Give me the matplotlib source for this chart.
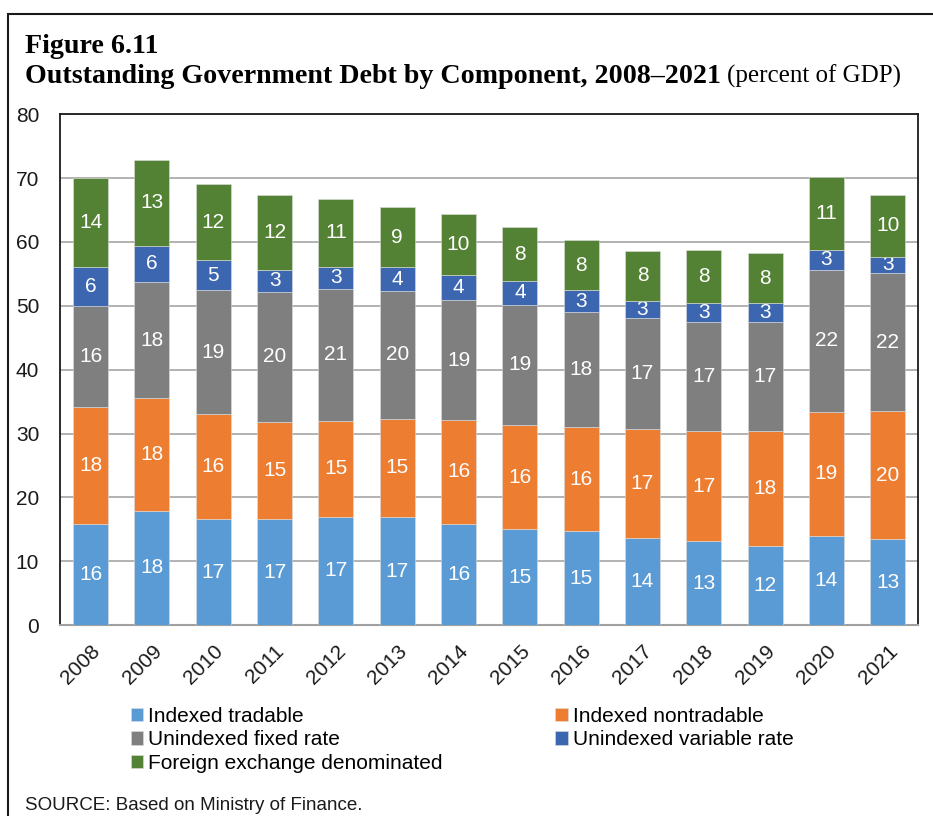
import matplotlib.pyplot as plt
from matplotlib.patches import Rectangle
import numpy as np

years = ['2008', '2009', '2010', '2011', '2012', '2013', '2014',
         '2015', '2016', '2017', '2018', '2019', '2020', '2021']

# percent of GDP
indexed_tradable = [15.8, 17.9, 16.6, 16.6, 17.0, 16.9, 15.9, 15.0, 14.7, 13.7, 13.1, 12.4, 14.0, 13.4]
indexed_nontradable = [18.4, 17.6, 16.4, 15.2, 14.9, 15.4, 16.2, 16.3, 16.3, 17.0, 17.3, 18.0, 19.4, 20.1]
unindexed_fixed = [15.8, 18.2, 19.4, 20.4, 20.8, 20.0, 18.8, 18.9, 18.0, 17.4, 17.0, 17.0, 22.2, 21.6]
unindexed_variable = [6.1, 5.7, 4.8, 3.4, 3.4, 3.7, 3.9, 3.7, 3.4, 2.7, 3.0, 3.0, 3.2, 2.6]
foreign_exchange = [13.9, 13.4, 11.8, 11.8, 10.7, 9.4, 9.6, 8.4, 7.9, 7.8, 8.4, 7.8, 11.4, 9.6]

series = [
    ('Indexed tradable', indexed_tradable, '#5B9BD5'),
    ('Indexed nontradable', indexed_nontradable, '#ED7D31'),
    ('Unindexed fixed rate', unindexed_fixed, '#7F7F7F'),
    ('Unindexed variable rate', unindexed_variable, '#3C66AF'),
    ('Foreign exchange denominated', foreign_exchange, '#548235'),
]

plt.rcParams['font.family'] = ['Liberation Sans', 'DejaVu Sans']

fig = plt.figure(figsize=(9.33, 8.16), dpi=100)
ax = fig.add_axes([0.0643, 0.234, 0.920, 0.626])

x = np.arange(len(years))
bottom = np.zeros(len(years))
handles = []
for name, vals, col in series:
    vals = np.array(vals)
    bars = ax.bar(x, vals, 0.57, bottom=bottom, color=col, label=name,
                  edgecolor='#dddddd', linewidth=0.4, zorder=3)
    ax.bar_label(bars, labels=['%d' % int(v + 0.5) for v in vals], label_type='center',
                 color='white', fontsize=15)
    handles.append(bars)
    bottom += vals

ax.set_xlim(-0.5, len(years) - 0.5)
ax.set_ylim(0, 80)
ax.set_yticks(range(0, 81, 10))
ax.yaxis.grid(True, color='#A6A6A6', linewidth=1.2, zorder=0)
ax.tick_params(axis='y', length=0, pad=15, labelsize=15, labelcolor='#1a1a1a')
ax.tick_params(axis='x', length=0, pad=12, labelsize=15, labelcolor='#1a1a1a')
ax.set_xticks(x)
ax.set_xticklabels(years, rotation=45, ha='right', va='top', rotation_mode='anchor')
for s in ['top', 'left', 'right']:
    ax.spines[s].set_color('#1a1a1a')
    ax.spines[s].set_linewidth(1.3)
ax.spines['bottom'].set_color('#A0A0A0')
ax.spines['bottom'].set_linewidth(1.5)

order = [0, 2, 4, 1, 3]
fig.legend([handles[i] for i in order], [series[i][0] for i in order],
           loc='upper left', bbox_to_anchor=(0.140, 0.134), ncol=2, frameon=False,
           fontsize=15, handlelength=0.6, handleheight=0.6, handletextpad=0.25,
           columnspacing=5.4, labelspacing=0.22, borderpad=0, borderaxespad=0)

fig.text(25 / 933, 1 - 53 / 816, 'Figure 6.11', family='Liberation Serif',
         fontweight='bold', fontsize=20.2, va='baseline')
t = fig.text(25 / 933, 1 - 83 / 816, 'Outstanding Government Debt by Component, 2008\u20132021',
             family='Liberation Serif', fontweight='bold', fontsize=20.2, va='baseline')
fig.canvas.draw()
bb = t.get_window_extent()
fig.text((bb.x1 + 6) / 933, 1 - 83 / 816, '(percent of GDP)', family='Liberation Serif',
         fontsize=18, va='baseline')

fig.text(25 / 933, 1 - 810 / 816, 'SOURCE: Based on Ministry of Finance.', fontsize=13.5,
         color='#1a1a1a', va='baseline')

fig.patches.append(Rectangle((8 / 933, -0.05), 1.0, 1 - 14 / 816 + 0.05,
                             transform=fig.transFigure, fill=False,
                             edgecolor='#1a1a1a', linewidth=1.5))

fig.savefig('out.png', dpi=100)
